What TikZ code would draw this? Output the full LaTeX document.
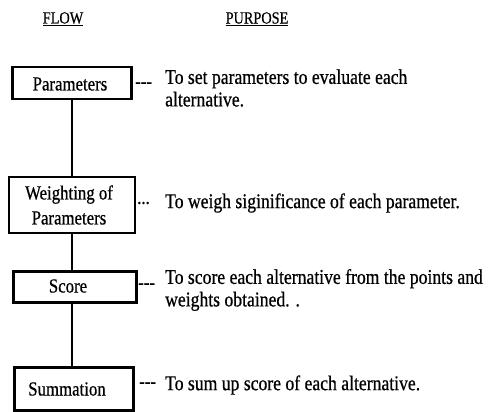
\documentclass[tikz,border=0pt]{standalone}
\usepackage{fontspec}
\setmainfont[FakeStretch=0.84,FakeBold=0.6]{Liberation Serif}
\begin{document}
\begin{tikzpicture}[x=1pt,y=-1pt,
  box/.style={draw, line width=2.5pt, inner sep=0pt},
  lbl/.style={font=\fontsize{20}{25}\selectfont, inner sep=0pt, align=center},
  txt/.style={font=\fontsize{21}{22.5}\selectfont, inner sep=0pt, anchor=west, align=left},
  hdr/.style={font=\fontsize{17}{18}\selectfont, inner sep=0pt},
  dots/.style={font=\fontsize{20}{20}\selectfont, inner sep=0pt, anchor=west},
  conn/.style={line width=2pt}]
\useasboundingbox (0,0) rectangle (490,412);
% headers
\node[hdr] (hflow) at (63,19) {\underline{FLOW}};
\node[hdr] (hpurp) at (257,19) {\underline{PURPOSE}};
% boxes
\node[box, minimum width=119pt, minimum height=32pt] (p) at (72,83) {};
\node[box, minimum width=126pt, minimum height=56pt] (w) at (72,205) {};
\node[box, minimum width=123pt, minimum height=31pt] (s) at (75,287) {};
\node[box, minimum width=119pt, minimum height=43pt] (m) at (74,389) {};
% box labels
\node[lbl] (pl) at (70,84) {Parameters};
\node[lbl] (wl) at (69,205) {Weighting of\\Parameters};
\node[lbl] (sl) at (68,286) {Score};
\node[lbl] (ml) at (67,389) {Summation};
% connectors
\draw[conn] (p.south -| 72,0) -- (w.north -| 72,0);
\draw[conn] (w.south -| 72,0) -- (s.north -| 72,0);
\draw[conn] (s.south -| 72,0) -- (m.north -| 72,0);
% dashes
\node[dots] (pd) at (135,85) {-{}-{}-};
\node[dots] (wd) at (137,203) {...};
\node[dots] (sd) at (138,286) {-{}-{}-};
\node[dots] (md) at (139,385) {-{}-{}-};
% purposes
\node[txt] (pt) at (165,88) {To set parameters to evaluate each\\alternative.};
\node[txt] (wt) at (165,203) {To weigh siginificance of each parameter.};
\node[txt] (st) at (165,290) {To score each alternative from the points and\\weights obtained. .};
\node[txt] (mt) at (165,385) {To sum up score of each alternative.};
\end{tikzpicture}
\end{document}
